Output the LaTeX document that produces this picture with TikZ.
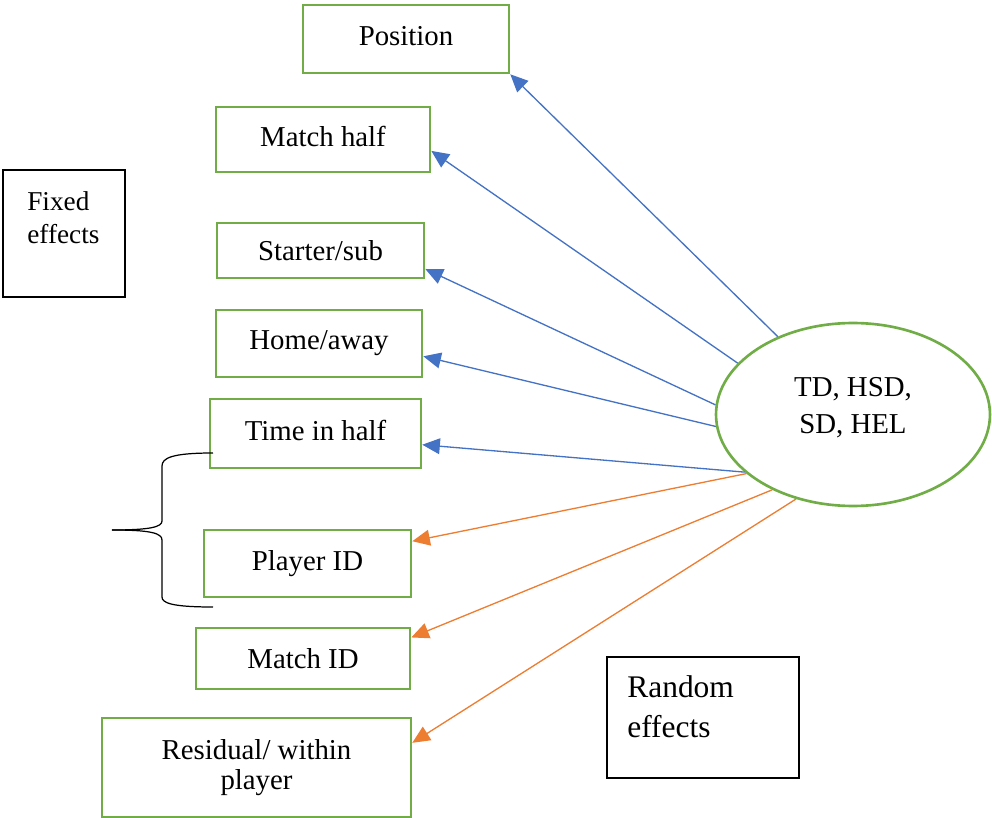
\documentclass[tikz,border=0pt]{standalone}
\usepackage{fontspec}
\setmainfont{Liberation Serif}
\usetikzlibrary{arrows.meta,shapes.geometric}
\definecolor{EffGreen}{HTML}{70AD47}
\definecolor{EffBlue}{HTML}{4472C4}
\definecolor{EffOrange}{HTML}{ED7D31}
\tikzset{
  factor/.style={draw=EffGreen, line width=1.5pt, align=center, inner sep=2pt},
  outcome/.style={ellipse, draw=EffGreen, line width=1.5pt, align=center},
  fixedarr/.style={-{Triangle[length=10pt,width=9pt]}, line width=0.75pt, draw=EffBlue},
  randarr/.style={-{Triangle[length=10pt,width=9pt]}, line width=0.75pt, draw=EffOrange},
  keybox/.style={draw=black, line width=0.6pt, inner sep=0pt},
  keytext/.style={anchor=north west, inner sep=0pt, align=left},
}

\begin{document}
\begin{tikzpicture}[x=0.02cm, y=-0.02cm, font=\fontsize{16.4}{19.7}\selectfont]
  \useasboundingbox (0,0) rectangle (992,818);

  % fixed effect factors
  \node[factor, minimum width=4.12cm, minimum height=1.36cm, text depth=4pt] (position) at (406,39) {Position};
  \node[factor, minimum width=4.28cm, minimum height=1.30cm, text depth=4pt] (mhalf) at (323,139.5) {Match half};
  \node[factor, minimum width=4.14cm, minimum height=1.10cm] (starter) at (320.5,250.5) {Starter/sub};
  \node[factor, minimum width=4.12cm, minimum height=1.34cm] (homeaway) at (319,343.5) {Home/away};
  \node[factor, minimum width=4.22cm, minimum height=1.38cm, text depth=4pt] (timehalf) at (315.5,433.5) {Time in half};

  % random effect factors
  \node[factor, minimum width=4.14cm, minimum height=1.34cm] (player) at (307.5,563.5) {Player ID};
  \node[factor, minimum width=4.28cm, minimum height=1.22cm] (match) at (303,658.5) {Match ID};
  \node[factor, minimum width=6.18cm, minimum height=1.98cm,
        font=\fontsize{16.4}{17}\selectfont] (resid) at (256.5,767.5) {Residual/ within\\player};

  \node[outcome, minimum width=5.48cm, minimum height=3.66cm, text depth=10pt,
        font=\fontsize{16.4}{21}\selectfont] (resp) at (853,414.5) {TD, HSD,\\SD, HEL};

  % legend boxes
  \node[keybox, minimum width=2.44cm, minimum height=2.54cm] (fixedbox) at (64,233.5) {};
  \node[keytext, font=\fontsize{15.5}{18.7}\selectfont] (fixedtxt) at (27,191) {Fixed\\effects};
  \node[keybox, minimum width=3.84cm, minimum height=2.42cm] (randbox) at (703,717.5) {};
  \node[keytext, font=\fontsize{17.9}{22.7}\selectfont] (randtxt) at (627,675.5) {Random\\effects};

  \draw[fixedarr] (resp.134) -- (position.south east);
  \draw[fixedarr] (resp.156) -- (mhalf.-6);
  \draw[fixedarr] (resp.176) -- (starter.-10);
  \draw[fixedarr] (resp.185) -- (homeaway.-7);
  \draw[fixedarr] (resp.208) -- (timehalf.-6);
  \draw[randarr] (resp.209) -- (player.12);
  \draw[randarr] (resp.223) -- (match.11);
  \draw[randarr] (resp.236) -- (resid.9);

  % brace
  \draw[line width=0.7pt] (213,453) .. controls (172,453) and (162,458) .. (162,466) -- (162,521)
    .. controls (162,527) and (150,530) .. (112,530);
  \draw[line width=0.7pt] (112,530) .. controls (150,530) and (162,533) .. (162,540) -- (162,597)
    .. controls (162,603) and (172,607) .. (213,607);
\end{tikzpicture}
\end{document}
